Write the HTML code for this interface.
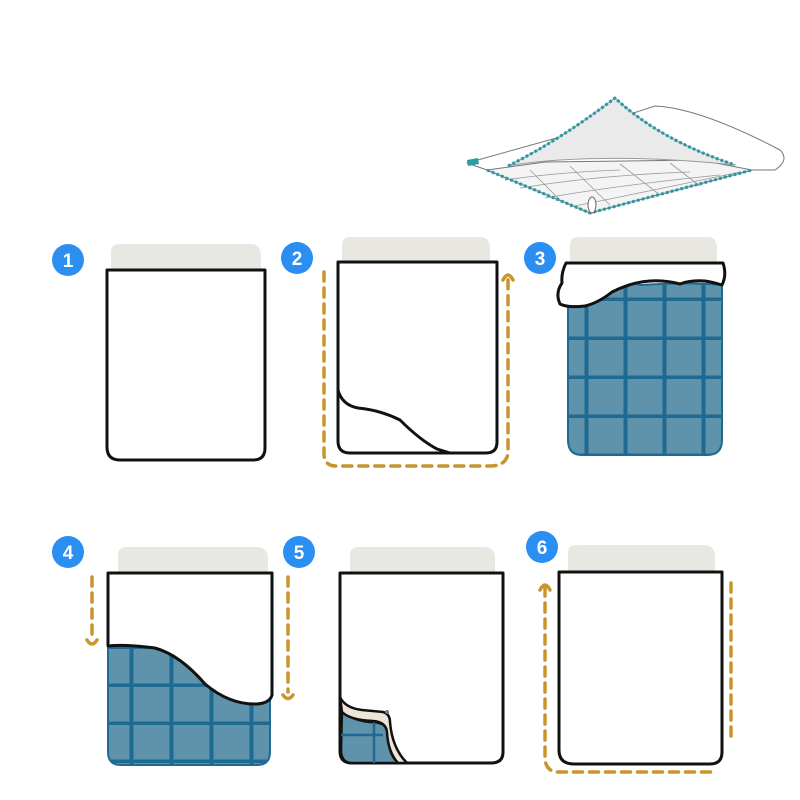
<!DOCTYPE html>
<html><head><meta charset="utf-8"><style>
html,body{margin:0;padding:0;background:#fff;}
svg{display:block}
text{font-family:"Liberation Sans",sans-serif;font-weight:bold;fill:#fff;font-size:19px;text-anchor:middle}
</style></head><body>
<svg width="800" height="800" viewBox="0 0 800 800" xmlns="http://www.w3.org/2000/svg">
<defs>
<pattern id="grid3" x="568" y="262" width="39" height="39" patternUnits="userSpaceOnUse">
<rect width="39" height="39" fill="#5f93ab"/>
<rect x="16.5" width="4" height="39" fill="#1f6a93"/><rect y="35.5" width="39" height="4" fill="#1f6a93"/>
</pattern>
<pattern id="grid4" x="108" y="573" width="40" height="38" patternUnits="userSpaceOnUse">
<rect width="40" height="38" fill="#5f93ab"/>
<rect x="21.5" width="4" height="38" fill="#1f6a93"/><rect y="34.5" width="40" height="4" fill="#1f6a93"/>
</pattern>
</defs>
<g fill="#e9e7e2">
<path d="M111,270 V252 Q111,244 120,244 H250 Q261,244 261,256 V270Z"/>
<path d="M342,263 V245 Q342,237 351,237 H480 Q490,237 490,249 V263Z"/>
<path d="M570,262 V245 Q570,237 579,237 H708 Q717,237 717,249 V262Z"/>
<path d="M118,573 V555 Q118,547 127,547 H256 Q268,547 268,559 V573Z"/>
<path d="M350,573 V555 Q350,547 359,547 H484 Q495,547 495,559 V573Z"/>
<path d="M568,572 V553 Q568,545 577,545 H704 Q715,545 715,557 V572Z"/>
</g>
<g fill="none" stroke="#111" stroke-width="3" stroke-linejoin="round">
<path d="M107,270 H265 V448 Q265,460 253,460 H120 Q107,460 107,447Z" fill="#fff"/>
<path d="M338,262 H497 V442 Q497,453 486,453 H350 Q338,453 338,441Z" fill="#fff"/>
<path d="M338,390 Q342,405 358,408 Q380,410 400,420 Q420,440 437,449 L450,453"/>
</g>
<g fill="none" stroke="#c8952b" stroke-width="3.5" stroke-dasharray="9,7" stroke-linecap="round">
<path d="M324,272 V455 Q325,466 336,466 H490 Q507,466 508,452 V278"/>
<path d="M92,577 V640"/>
<path d="M288,577 V692"/>
<path d="M545,587 V760 Q547,772 558,772 H712"/>
<path d="M731,583 V743"/>
</g>
<g fill="none" stroke="#c8952b" stroke-width="3.5" stroke-linecap="round">
<path d="M503,280 Q508,270 513,280"/>
<path d="M87,640 Q92,648 97,640"/>
<path d="M283,695 Q288,702 293,695"/>
<path d="M540,590 Q545,580 550,590"/>
</g>
<!-- panel 3 -->
<path d="M568,290 Q600,270 640,285 Q690,282 722,285 V440 Q722,455 707,455 H582 Q568,455 568,440Z" fill="url(#grid3)" stroke="#1f6a93" stroke-width="2"/>
<path d="M566,263 H723 Q727,275 722,285 Q712,282 705,281 Q690,280 680,284 Q665,280 650,281 Q632,282 612,292 Q598,303 585,306 Q568,308 560,304 Q555,293 562,283 Q561,273 566,263Z" fill="#fff" stroke="#111" stroke-width="3" stroke-linejoin="round"/>
<!-- panel 4 -->
<path d="M108,646 H270 V752 Q270,765 257,765 H121 Q108,765 108,752Z" fill="url(#grid4)" stroke="#1f6a93" stroke-width="2"/>
<path d="M108,573 H272 V695 Q270,703 257,704 Q230,705 205,684 Q180,655 155,648 Q125,644 108,646Z" fill="#fff" stroke="#111" stroke-width="3" stroke-linejoin="round"/>
<!-- panel 5 -->
<path d="M340,573 H503 V752 Q503,763 491,763 H352 Q340,763 340,751Z" fill="#fff" stroke="#111" stroke-width="3" stroke-linejoin="round"/>
<path d="M342,710 Q350,720 370,722 Q383,722 387,728 L389,745 Q392,760 400,763 H352 Q341,763 341,750Z" fill="#5f93ab" stroke="#111" stroke-width="2.5"/>
<path d="M341,735 H383 M374,722 V763" fill="none" stroke="#1f6a93" stroke-width="2.5"/>
<path d="M340,697 Q345,708 362,710 L383,712 Q390,714 390,722 Q392,748 407,763 H398 Q388,752 387,732 Q386,722 373,721 Q350,720 342,712Z" fill="#ede6d6" stroke="#111" stroke-width="2.5" stroke-linejoin="round"/>
<circle cx="387" cy="712" r="2" fill="#777"/>
<!-- panel 6 -->
<path d="M559,572 H722 V752 Q722,764 710,764 H574 Q559,764 559,750Z" fill="#fff" stroke="#111" stroke-width="3" stroke-linejoin="round"/>
<!-- numbers -->
<g fill="#2a8ff0">
<circle cx="68" cy="260" r="16"/><circle cx="297" cy="258" r="16"/><circle cx="540" cy="258" r="16"/>
<circle cx="68" cy="552" r="16"/><circle cx="299" cy="552" r="16"/><circle cx="542" cy="547" r="16"/>
</g>
<text x="68" y="267">1</text><text x="297" y="265">2</text><text x="540" y="265">3</text>
<text x="68" y="559">4</text><text x="299" y="559">5</text><text x="542" y="554">6</text>
<!-- quilt top right -->
<g stroke-linejoin="round">
<path d="M467,163 L560,137 L655,106 Q700,108 780,150 Q790,160 775,170 L752,170 L590,213 L487,170Z" fill="#fff" stroke="#777" stroke-width="1"/>
<path d="M487,170 L545,162 L700,160 L752,170 L590,213Z" fill="#f4f4f4" stroke="#777" stroke-width="1"/>
<path d="M505,180 Q560,172 620,170 M520,188 Q600,175 690,172 M545,198 Q620,185 720,175 M570,207 Q640,193 740,172 M530,170 L560,200 M570,166 L610,205 M620,164 L660,195 M670,163 L700,186" fill="none" stroke="#999" stroke-width="0.8"/>
<path d="M508,166 Q560,140 615,98 Q660,140 735,165 Q640,155 560,160 Q530,162 508,166Z" fill="#eaeaea" stroke="#999" stroke-width="1"/>
<path d="M508,166 Q560,140 615,98 Q660,140 735,165" fill="none" stroke="#2a9aa6" stroke-width="3" stroke-dasharray="3,2"/>
<path d="M487,170 L590,213 L752,170" fill="none" stroke="#2a9aa6" stroke-width="3" stroke-dasharray="3,2"/>
<path d="M467,160 L478,158 L479,164 L468,166Z" fill="#2a9aa6"/>
<ellipse cx="592" cy="205" rx="4" ry="8" fill="#fff" stroke="#666" stroke-width="1"/>
</g>
</svg>
</body></html>
